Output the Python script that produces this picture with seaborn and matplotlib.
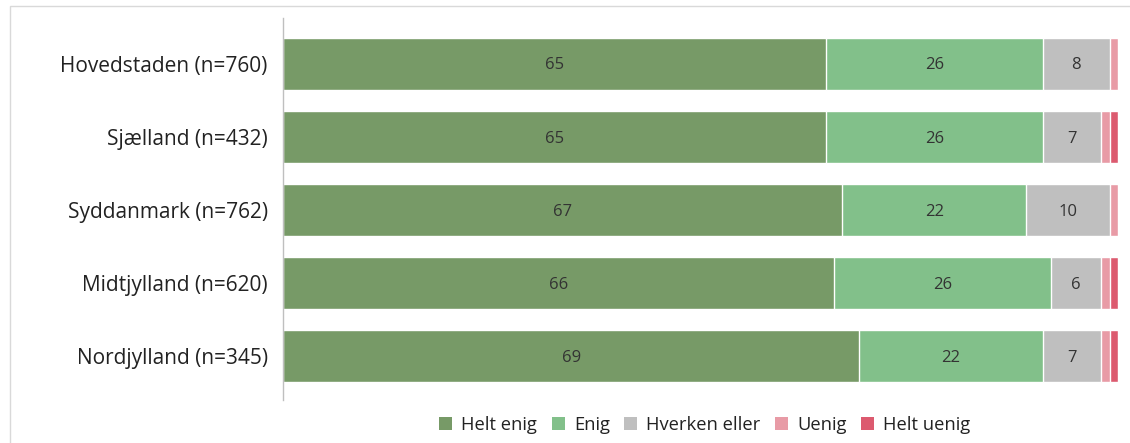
import numpy as np
import pandas as pd
import seaborn as sns
import matplotlib.pyplot as plt
from matplotlib.patches import Rectangle, Patch

# Data
regions = ["Hovedstaden (n=760)", "Sjælland (n=432)", "Syddanmark (n=762)",
           "Midtjylland (n=620)", "Nordjylland (n=345)"]
categories = ["Helt enig", "Enig", "Hverken eller", "Uenig", "Helt uenig"]
helt_enig = [65, 65, 67, 66, 69]
enig = [26, 26, 22, 26, 22]
hverken = [8, 7, 10, 6, 7]
uenig = [1, 1, 1, 1, 1]
helt_uenig = [0, 1, 0, 1, 1]
colors = ["#779A67", "#82C08A", "#BFBFBF", "#E89BA6", "#DC5A6F"]

series = [helt_enig, enig, hverken, uenig, helt_uenig]
cum = np.cumsum(np.array(series), axis=0)

sns.set_style("white")
plt.rcParams['font.family'] = ['Open Sans', 'DejaVu Sans']

fig = plt.figure(figsize=(11.3, 4.43), dpi=100)
ax = fig.add_axes([283 / 1130, 43 / 443, 835 / 1130, 382 / 443])

# draw cumulative bars from the back (largest) to the front
for i in range(len(categories) - 1, -1, -1):
    df = pd.DataFrame({"region": regions, "val": cum[i]})
    sns.barplot(data=df, x="val", y="region", color=colors[i], orient="h",
                width=0.71, edgecolor="white", linewidth=1, ax=ax, saturation=1)

# segment labels
for i, vals in enumerate(series):
    for j, v in enumerate(vals):
        if v >= 5:
            ax.text(cum[i][j] - v / 2, j + 0.02, str(v), ha="center", va="center",
                    fontsize=12, color="#333333")

ax.set_xlim(0, 100)
ax.set_ylim(4.6, -0.63)
ax.set_xlabel("")
ax.set_ylabel("")
ax.set_xticks([])
ax.tick_params(axis="y", labelsize=15, length=0, pad=11, labelcolor="#222222")
for s in ["top", "right", "bottom"]:
    ax.spines[s].set_visible(False)
ax.spines["left"].set_color("#BFBFBF")
ax.spines["left"].set_linewidth(1)

handles = [Patch(facecolor=c, edgecolor="none", label=l) for c, l in zip(colors, categories)]
fig.legend(handles=handles, loc="center", bbox_to_anchor=(705 / 1130, 1 - 425 / 443),
           ncol=5, frameon=False, fontsize=13.2, handlelength=0.7, handleheight=0.7,
           handletextpad=0.5, columnspacing=0.8, labelcolor="#222222")

# outer chart border
fig.patches.append(Rectangle((10 / 1130, -0.01), 1.1, 1 - 6 / 443 + 0.01,
                             transform=fig.transFigure, fill=False,
                             edgecolor="#D9D9D9", linewidth=1))

fig.savefig("out.png", dpi=100)
